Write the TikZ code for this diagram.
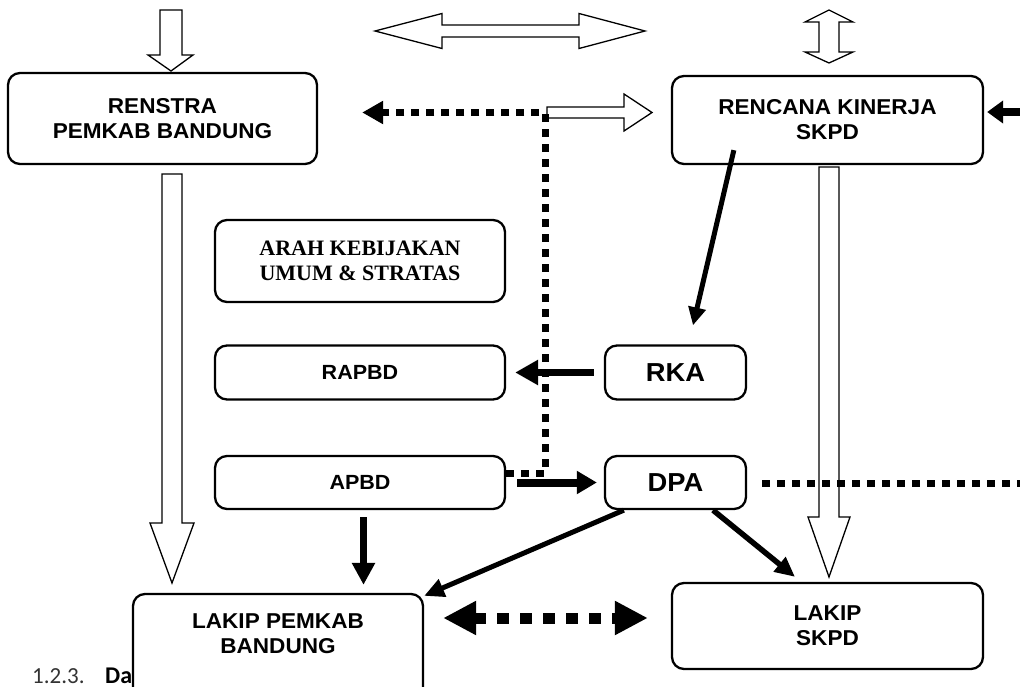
\documentclass[tikz,border=0pt]{standalone}
\usepackage{fontspec}
\setmainfont{Liberation Sans}
\newfontfamily\arialw[FakeStretch=1.05]{Liberation Sans}
\newfontfamily\serifb{Liberation Serif}
\newfontfamily\carl{Carlito}
\usetikzlibrary{arrows.meta,calc}
\begin{document}
\begin{tikzpicture}[x=1pt,y=-1pt,
  box/.style={draw, line width=2.3pt, rounded corners=12pt, fill=white, align=center, inner sep=0pt,
    font=\arialw\bfseries\fontsize{21.5}{25}\selectfont},
  lbl/.style={align=center, inner sep=0pt, font=\arialw\bfseries\fontsize{21.5}{25}\selectfont},
  hollow/.style={draw, line width=1.3pt, fill=white, line join=miter},
  dotline/.style={line width=7pt, dash pattern=on 8pt off 7pt},
]
\useasboundingbox (0,0) rectangle (1020,687);

% heading text partly hidden behind the box
\node[anchor=base west, inner sep=0pt, text=black!80, font=\carl\fontsize{23}{26}\selectfont] (num) at (32,683) {1.2.3.};
\node[anchor=base west, inner sep=0pt, font=\carl\bfseries\fontsize{24}{26}\selectfont] (da) at (105,683) {Da};

% hollow block arrows
\draw[hollow] (160,10) -- (182,10) -- (182,55) -- (193,55) -- (171,71) -- (148,55) -- (160,55) -- cycle;
\draw[hollow] (375,31) -- (442,13.5) -- (442,25) -- (579,25) -- (579,13.5) -- (645,31) -- (579,48.5) -- (579,37) -- (442,37) -- (442,48.5) -- cycle;
\draw[hollow] (829,10) -- (853,22) -- (839,22) -- (839,52) -- (853,52) -- (829,63) -- (805,52) -- (819,52) -- (819,22) -- (805,22) -- cycle;
\draw[hollow] (547,107) -- (624,107) -- (624,94) -- (652,112.5) -- (624,131) -- (624,118) -- (547,118) -- cycle;
\draw[hollow] (162,174) -- (182,174) -- (182,523) -- (194,523) -- (172,583) -- (150,523) -- (162,523) -- cycle;
\draw[hollow] (819,167) -- (839,167) -- (839,517) -- (850,517) -- (829,577) -- (808,517) -- (819,517) -- cycle;

% boxes
\node[box, minimum width=309pt, minimum height=91pt] (renstra) at (162.5,118.5) {RENSTRA\\PEMKAB BANDUNG};
\node[box, minimum width=311pt, minimum height=88pt] (rencana) at (827.5,120) {RENCANA KINERJA\\SKPD};
\node[box, font=\serifb\bfseries\fontsize{22}{25}\selectfont, minimum width=290pt, minimum height=82pt] (arah) at (360,261) {ARAH KEBIJAKAN\\UMUM \& STRATAS};
\node[box, font=\arialw\bfseries\fontsize{20.5}{24}\selectfont, minimum width=290pt, minimum height=54pt] (rapbd) at (360,372.5) {RAPBD};
\node[box, font=\arialw\bfseries\fontsize{20.5}{24}\selectfont, minimum width=290pt, minimum height=53pt] (apbd) at (360,482.5) {APBD};
\node[box, font=\arialw\bfseries\fontsize{26}{30}\selectfont, minimum width=141pt, minimum height=54pt] (rka) at (675.5,372.5) {RKA};
\node[box, font=\arialw\bfseries\fontsize{26}{30}\selectfont, minimum width=141pt, minimum height=53pt] (dpa) at (675.5,482.5) {DPA};
\node[box, minimum width=290pt, minimum height=112pt] (lakipp) at (278,650) {};
\node[lbl] (lakipptext) at (278,634) {LAKIP PEMKAB\\BANDUNG};
\node[box, minimum width=311pt, minimum height=86pt] (lakips) at (827.5,626) {LAKIP\\SKPD};

% free ends and bends
\coordinate (bend) at (545,473);
\coordinate (corner) at (545,112.5);
\coordinate (rightend) at (1030,483.5);
\coordinate (redge) at (1030,112);

% dotted connectors
\draw[dotline, -{Triangle[length=21pt,width=22pt]}] ($(apbd.east)+(0,-9.5)$) -- (bend) -- (corner) -- ($(renstra.east)+(44,-6)$);
\draw[dotline] ($(dpa.east)+(15,1)$) -- (rightend);
\draw[line width=8pt, -{Triangle[length=16pt,width=22pt]}] (redge) -- ($(rencana.east)+(3,-8)$);
\draw[line width=11pt, dash pattern=on 12pt off 11pt,
  {Triangle[length=33pt,width=32pt]}-{Triangle[length=33pt,width=32pt]}]
  ($(lakipp.east)+(19,-32)$) -- ($(lakips.west)+(-23,-8)$);

% solid arrows
\draw[line width=5pt, -{Triangle[length=18pt,width=17pt]}] ($(rencana.south west)+(63,-15)$) -- ($(rka.north)+(17.5,-19)$);
\draw[line width=7pt, -{Triangle[length=23pt,width=24pt]}] ($(rka.west)+(-10,0)$) -- ($(rapbd.east)+(9,0)$);
\draw[line width=8pt, -{Triangle[length=20pt,width=22pt]}] ($(apbd.east)+(11,0)$) -- ($(dpa.west)+(-7,0)$);
\draw[line width=7pt, -{Triangle[length=22pt,width=22pt]}] ($(apbd.south)+(3.5,7)$) -- ($(lakipp.north)+(85.5,-8)$);
\draw[line width=5pt, -{Triangle[length=20pt,width=18pt]}] ($(dpa.south west)+(20,0)$) -- ($(lakipp.north east)+(0,3)$);
\draw[line width=5.5pt, -{Triangle[length=20pt,width=18pt]}] ($(dpa.south)+(37.5,0)$) -- ($(lakips.north)+(-32.5,-5)$);
\end{tikzpicture}
\end{document}
